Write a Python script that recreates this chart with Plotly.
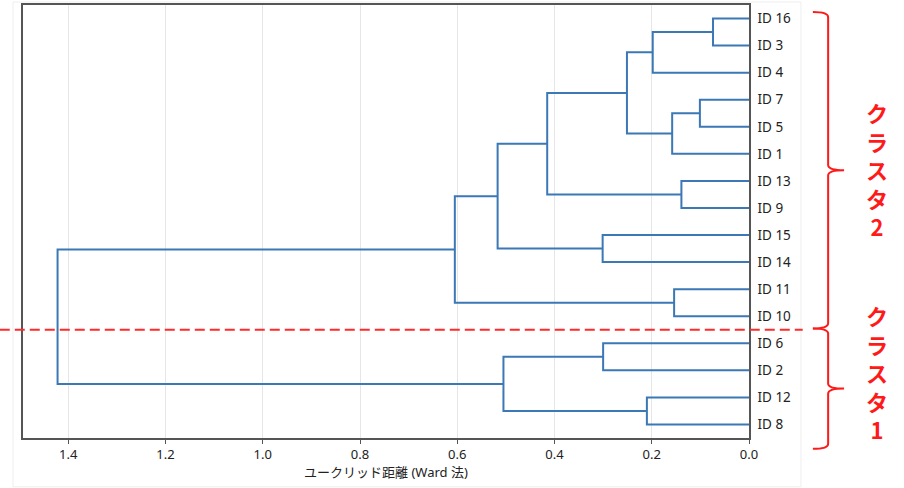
import plotly.graph_objects as go

# leaf order, top to bottom
leaf_labels = ["ID 16", "ID 3", "ID 4", "ID 7", "ID 5", "ID 1", "ID 13", "ID 9",
               "ID 15", "ID 14", "ID 11", "ID 10", "ID 6", "ID 2", "ID 12", "ID 8"]

# linkage: node ids 0-15 are leaves, each merge creates node 16, 17, ...
merge_left = [0, 16, 3, 18, 17, 6, 20, 8, 22, 10, 24, 12, 14, 27, 26]
merge_right = [1, 2, 4, 5, 19, 7, 21, 9, 23, 11, 25, 13, 15, 28, 29]
merge_height = [0.074, 0.198, 0.101, 0.158, 0.251, 0.139, 0.415, 0.301,
                0.517, 0.154, 0.605, 0.300, 0.210, 0.505, 1.422]

# clusters (first leaf, last leaf) and their labels
cluster_spans = [(0, 11), (12, 15)]
cluster_names = ["クラスタ2", "クラスタ1"]

n = len(leaf_labels)
pos = {i: float(i) for i in range(n)}
hgt = {i: 0.0 for i in range(n)}

xs, ys = [], []
for k, (a, b, h) in enumerate(zip(merge_left, merge_right, merge_height)):
    node = n + k
    xs += [hgt[a], h, h, hgt[b], None]
    ys += [pos[a], pos[a], pos[b], pos[b], None]
    pos[node] = (pos[a] + pos[b]) / 2
    hgt[node] = h

fig = go.Figure()
fig.add_trace(go.Scatter(x=xs, y=ys, mode="lines",
                         line=dict(color="#3b78b5", width=2),
                         hoverinfo="skip", showlegend=False))

y_lo, y_hi = -0.5, n - 0.5
x_max = max(merge_height) * 1.05


def py(v):
    # data y -> paper y
    return (y_hi - v) / (y_hi - y_lo)


def brace(top, bot, xl=1.088, xv=1.109, xt=1.131, r=0.012):
    t, b = py(top), py(bot)
    m = (t + b) / 2
    return (f"M {xl},{t} Q {xv},{t} {xv},{t - r} L {xv},{m + r} "
            f"Q {xv},{m} {xt},{m} Q {xv},{m} {xv},{m - r} "
            f"L {xv},{b + r} Q {xv},{b} {xl},{b}")


shapes = [
    # faint outer frame
    dict(type="rect", xref="paper", yref="paper", x0=-0.0138, x1=1.0716,
         y0=-0.1129, y1=1.0069, line=dict(color="#eeeeee", width=1), layer="below"),
    # cut line between clusters
    dict(type="line", xref="paper", yref="paper", x0=-0.032, x1=1.074,
         y0=py(cluster_spans[0][1] + 0.5), y1=py(cluster_spans[0][1] + 0.5),
         line=dict(color="#ff2a2a", width=2, dash="10px,5px")),
]
brace_ends = [(cluster_spans[0][0] - 0.24, cluster_spans[0][1] + 0.45),
              (cluster_spans[1][0] - 0.55, cluster_spans[1][1] + 0.9)]
for top, bot in brace_ends:
    shapes.append(dict(type="path", xref="paper", yref="paper", path=brace(top, bot),
                       line=dict(color="#ff1a1a", width=2)))

annotations = []
for (a, b), name, shift in zip(cluster_spans, cluster_names, [-2, 12]):
    annotations.append(dict(
        xref="paper", yref="paper", x=1.176, y=py((a + b) / 2), yshift=shift,
        text="<br>".join(list(name)), showarrow=False,
        xanchor="center", yanchor="middle", align="center",
        font=dict(family="Noto Sans CJK JP", size=22, color="#ff1a1a", weight="bold")))

fig.update_layout(
    width=904, height=488,
    margin=dict(l=23, r=155, t=5, b=50),
    paper_bgcolor="white", plot_bgcolor="white",
    font=dict(family="Noto Sans, Noto Sans CJK JP", size=13, color="#222222"),
    shapes=shapes, annotations=annotations,
    xaxis=dict(range=[x_max, 0], tickvals=[1.4, 1.2, 1.0, 0.8, 0.6, 0.4, 0.2, 0.0],
               ticktext=["1.4", "1.2", "1.0", "0.8", "0.6", "0.4", "0.2", "0.0"],
               showgrid=True, gridcolor="#e6e6e6", gridwidth=1, zeroline=False,
               showline=True, linecolor="#555555", linewidth=1.5, mirror=True,
               ticks="outside", ticklen=4, tickcolor="#555555", automargin=False,
               title=dict(text="ユークリッド距離 (Ward 法)", standoff=2,
                          font=dict(size=13, color="#222222"))),
    yaxis=dict(range=[y_hi, y_lo], side="right", tickvals=list(range(n)),
               ticktext=leaf_labels, showgrid=False, zeroline=False,
               showline=True, linecolor="#555555", linewidth=1.5, mirror=True,
               ticks="", ticklabelstandoff=4, automargin=False,
               tickfont=dict(size=13.5, color="#222222")),
)

fig.write_html("out.html", config={"displayModeBar": False},
               post_script="document.body.style.margin='0';")
